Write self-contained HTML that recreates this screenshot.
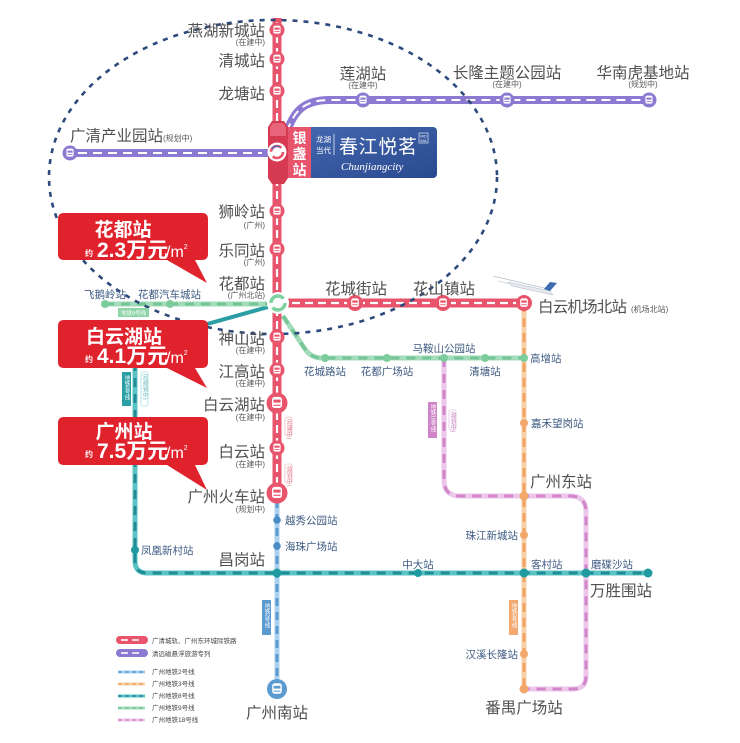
<!DOCTYPE html>
<html><head><meta charset="utf-8"><style>
html,body{margin:0;padding:0;background:#fff;}
svg{display:block;}
text{font-family:"Liberation Sans","Noto Sans CJK SC",sans-serif;}
.big{font-size:15.5px;fill:#505050;}
.sm{font-size:8px;fill:#5a5a5a;}
.nv{font-size:10.5px;fill:#3d5a82;}
.lg{font-size:6.5px;fill:#444;}
.vt{writing-mode:tb;font-size:5.5px;}
</style></head><body>
<svg width="740" height="743" viewBox="0 0 740 743" xmlns="http://www.w3.org/2000/svg">
<defs>
<symbol id="tr" viewBox="-10 -10 20 20">
<rect x="-4.8" y="-5.8" width="9.6" height="10.6" rx="2.6" fill="#fff"/>
<rect x="-3.4" y="-3.2" width="6.8" height="2.8" fill="currentColor"/>
<rect x="-3.4" y="1.6" width="6.8" height="1.1" fill="currentColor"/>
</symbol>
<linearGradient id="bg" x1="0" y1="0" x2="1" y2="1">
<stop offset="0" stop-color="#4467b0"/><stop offset="1" stop-color="#2a4a8f"/>
</linearGradient>
</defs>

<!-- Line 2 blue -->
<line x1="277" y1="500" x2="277" y2="689" stroke="#a9d0ee" stroke-width="5"/>
<line x1="277" y1="500" x2="277" y2="689" stroke="#5c9bd0" stroke-width="3" stroke-dasharray="8 6"/>
<!-- Line 3 orange -->
<line x1="524" y1="303" x2="524" y2="689" stroke="#f8d0a8" stroke-width="5"/>
<line x1="524" y1="303" x2="524" y2="689" stroke="#f0a464" stroke-width="3" stroke-dasharray="9 6"/>
<!-- Line 18 pink -->
<path d="M444,358 L444,480 Q444,496 460,496 L570,496 Q586,496 586,512 L586,676 Q586,689 573,689 L524,689" fill="none" stroke="#edc6ec" stroke-width="5"/>
<path d="M444,358 L444,480 Q444,496 460,496 L570,496 Q586,496 586,512 L586,676 Q586,689 573,689 L524,689" fill="none" stroke="#cf85c8" stroke-width="3" stroke-dasharray="9 7"/>
<!-- Line 8 teal -->
<path d="M135,330 L135,561 Q135,573 147,573 L648,573" fill="none" stroke="#5cc3c4" stroke-width="5"/>
<path d="M135,330 L135,561 Q135,573 147,573 L648,573" fill="none" stroke="#1f8c96" stroke-width="3" stroke-dasharray="9 7"/>
<line x1="268" y1="307" x2="200" y2="326" stroke="#2a9ea3" stroke-width="4"/>
<!-- Line 9 green -->
<line x1="105" y1="304" x2="270" y2="304" stroke="#a3dcbb" stroke-width="5"/>
<path d="M283,316 L305,349 Q311,358 322,358 L524,358" fill="none" stroke="#a3dcbb" stroke-width="5"/>
<line x1="105" y1="304" x2="270" y2="304" stroke="#74c596" stroke-width="3" stroke-dasharray="9 7"/>
<path d="M283,316 L305,349 Q311,358 322,358 L524,358" fill="none" stroke="#74c596" stroke-width="3" stroke-dasharray="9 7"/>

<!-- Purple maglev -->
<path d="M70,153 L268,153" stroke="#8c7ad2" stroke-width="8" fill="none"/>
<path d="M287,132 C294,110 305,100 330,100 L650,100" stroke="#8c7ad2" stroke-width="8" fill="none"/>
<path d="M78,153 L262,153" stroke="#fff" stroke-width="2" stroke-dasharray="9 6" fill="none"/>
<path d="M287,132 C294,110 305,100 330,100 L642,100" stroke="#fff" stroke-width="2" stroke-dasharray="9 6" fill="none"/>

<!-- Red intercity -->
<line x1="277" y1="18" x2="277" y2="500" stroke="#e8546b" stroke-width="9"/>
<line x1="287" y1="303" x2="524" y2="303" stroke="#e8546b" stroke-width="9"/>
<line x1="277" y1="22" x2="277" y2="498" stroke="#fff" stroke-width="2.2" stroke-dasharray="8 5"/>
<line x1="292" y1="303" x2="520" y2="303" stroke="#fff" stroke-width="2.2" stroke-dasharray="8 5"/>

<!-- dashed ellipse -->
<ellipse cx="273" cy="177" rx="224" ry="157" fill="none" stroke="#2e4a7c" stroke-width="2.6" stroke-dasharray="5 6"/>

<!-- red stations -->
<g>
<circle cx="277" cy="30" r="7.5" fill="#e8546b"/><use href="#tr" x="269.5" y="22.5" width="15" height="15" style="color:#e8546b"/>
<circle cx="277" cy="59" r="7.5" fill="#e8546b"/><use href="#tr" x="269.5" y="51.5" width="15" height="15" style="color:#e8546b"/>
<circle cx="277" cy="91" r="7.5" fill="#e8546b"/><use href="#tr" x="269.5" y="83.5" width="15" height="15" style="color:#e8546b"/>
<circle cx="277" cy="211" r="7.5" fill="#e8546b"/><use href="#tr" x="269.5" y="203.5" width="15" height="15" style="color:#e8546b"/>
<circle cx="277" cy="249" r="7.5" fill="#e8546b"/><use href="#tr" x="269.5" y="241.5" width="15" height="15" style="color:#e8546b"/>
<circle cx="277" cy="337" r="7.5" fill="#e8546b"/><use href="#tr" x="269.5" y="329.5" width="15" height="15" style="color:#e8546b"/>
<circle cx="277" cy="370" r="7.5" fill="#e8546b"/><use href="#tr" x="269.5" y="362.5" width="15" height="15" style="color:#e8546b"/>
<circle cx="277" cy="448" r="7.5" fill="#e8546b"/><use href="#tr" x="269.5" y="440.5" width="15" height="15" style="color:#e8546b"/>
<circle cx="277" cy="403" r="10.5" fill="#e8546b"/><use href="#tr" x="266.5" y="392.5" width="21" height="21" style="color:#e8546b"/>
<circle cx="277" cy="493" r="10.5" fill="#e8546b"/><use href="#tr" x="266.5" y="482.5" width="21" height="21" style="color:#e8546b"/>
<circle cx="355" cy="303" r="8" fill="#e8546b"/><use href="#tr" x="347" y="295" width="16" height="16" style="color:#e8546b"/>
<circle cx="443" cy="303" r="8" fill="#e8546b"/><use href="#tr" x="435" y="295" width="16" height="16" style="color:#e8546b"/>
<circle cx="524" cy="303" r="8" fill="#e8546b"/><use href="#tr" x="516" y="295" width="16" height="16" style="color:#e8546b"/>
</g>
<!-- purple stations -->
<circle cx="70" cy="153" r="7.5" fill="#8c7ad2"/><use href="#tr" x="62.5" y="145.5" width="15" height="15" style="color:#8c7ad2"/>
<circle cx="363" cy="100" r="7.5" fill="#8c7ad2"/><use href="#tr" x="355.5" y="92.5" width="15" height="15" style="color:#8c7ad2"/>
<circle cx="507" cy="100" r="7.5" fill="#8c7ad2"/><use href="#tr" x="499.5" y="92.5" width="15" height="15" style="color:#8c7ad2"/>
<circle cx="649" cy="100" r="7.5" fill="#8c7ad2"/><use href="#tr" x="641.5" y="92.5" width="15" height="15" style="color:#8c7ad2"/>
<!-- Guangzhou south -->
<circle cx="277" cy="689" r="10" fill="#5c9bd0"/><use href="#tr" x="267" y="679" width="20" height="20" style="color:#5c9bd0"/>

<!-- small dots -->
<g fill="#1f9aa0">
<circle cx="135" cy="550" r="4"/><circle cx="277" cy="573" r="4.5"/><circle cx="418" cy="573" r="4"/>
<circle cx="524" cy="573" r="4.5"/><circle cx="586" cy="573" r="4.5"/><circle cx="648" cy="573" r="4.5"/>
</g>
<g fill="#f2a86a">
<circle cx="524" cy="423" r="4"/><circle cx="524" cy="496" r="4.5"/><circle cx="524" cy="535" r="4"/>
<circle cx="524" cy="654" r="4"/><circle cx="524" cy="689" r="4.5"/>
</g>
<g fill="#7ccc9c">
<circle cx="105" cy="304" r="4"/><circle cx="170" cy="304" r="4"/>
<circle cx="325" cy="358" r="4"/><circle cx="387" cy="358" r="4"/><circle cx="444" cy="358" r="4"/>
<circle cx="485" cy="358" r="4"/><circle cx="524" cy="358" r="4"/>
</g>
<g fill="#4a8cc6">
<circle cx="277" cy="520" r="3.8"/><circle cx="277" cy="546" r="3.8"/>
</g>

<!-- Huadu hub -->
<circle cx="278" cy="303" r="11" fill="#fff"/>
<circle cx="278" cy="303" r="7" fill="none" stroke="#7dd0a0" stroke-width="3.5" stroke-dasharray="17 5"/>

<!-- Yinzhan hub -->
<polygon points="268,127 272,121 284,121 288,127 288,178 284,184 272,184 268,178" fill="#d63a52"/>
<polygon points="270,127 273,123 283,123 286,127 286,136 270,136" fill="#e8647a"/>
<circle cx="277" cy="152" r="9.5" fill="#fff"/>
<circle cx="277" cy="152" r="6" fill="none" stroke="#e8546b" stroke-width="2.6" stroke-dasharray="14 5"/>
<path d="M272,149 A6,6 0 0 1 280,147" fill="none" stroke="#5468b8" stroke-width="1.5"/>

<!-- Brand box -->
<rect x="300" y="127" width="137" height="51" rx="4" fill="url(#bg)"/>
<rect x="288" y="127" width="23" height="51" fill="#e8546b"/>
<text x="299.5" y="143" font-size="14" font-weight="bold" fill="#fff" text-anchor="middle">银</text>
<text x="299.5" y="159" font-size="14" font-weight="bold" fill="#fff" text-anchor="middle">盏</text>
<text x="299.5" y="175" font-size="14" font-weight="bold" fill="#fff" text-anchor="middle">站</text>
<text x="316" y="142" font-size="7.5" fill="#fff">龙湖</text>
<text x="316" y="153" font-size="7.5" fill="#fff">当代</text>
<line x1="334" y1="134" x2="334" y2="155" stroke="#fff" stroke-width="0.7"/>
<text x="339" y="153" font-size="19" fill="#fff" textLength="78">春江悦茗</text>
<rect x="419" y="133" width="9" height="10" fill="none" stroke="#fff" stroke-width="0.6"/>
<text x="423.5" y="137.5" font-size="4" fill="#fff" text-anchor="middle">MO</text>
<text x="423.5" y="142" font-size="4" fill="#fff" text-anchor="middle">MA</text>
<text x="341" y="170" font-size="11" font-style="italic" fill="#fff" style="font-family:'Liberation Serif',serif">Chunjiangcity</text>

<!-- airplane -->
<g>
<line x1="493" y1="276" x2="548" y2="289" stroke="#b8c0cc" stroke-width="0.8"/>
<line x1="498" y1="281" x2="540" y2="291" stroke="#c8ced8" stroke-width="0.8"/>
<path d="M508,282 L550,291 L553,295 L512,286 Z" fill="#e6e9ee" stroke="#b0b8c4" stroke-width="0.5"/>
<path d="M544,289 L550,282 L557,283 L550,291 Z" fill="#3d6bb0"/>
</g>

<!-- Callouts -->
<path d="M64,213 H202 Q208,213 208,219 V254 Q208,260 202,260 H195 L207,283 L167,260 H64 Q58,260 58,254 V219 Q58,213 64,213 Z" fill="#e0222d"/>
<path d="M64,320 H202 Q208,320 208,326 V362 Q208,368 202,368 H195 L207,388 L167,368 H64 Q58,368 58,362 V326 Q58,320 64,320 Z" fill="#e0222d"/>
<path d="M64,417 H202 Q208,417 208,423 V459 Q208,465 202,465 H195 L207,490 L167,465 H64 Q58,465 58,459 V423 Q58,417 64,417 Z" fill="#e0222d"/>
<g fill="#fff">
<text x="123" y="236" font-size="19" font-weight="bold" text-anchor="middle">花都站</text>
<text x="85" y="256" font-size="8" font-weight="bold">约</text>
<text x="97" y="257" font-size="21" font-weight="bold">2.3万元</text>
<text x="166" y="257" font-size="16">/m<tspan font-size="7" dy="-8">2</tspan></text>
<text x="124" y="343" font-size="19" font-weight="bold" text-anchor="middle">白云湖站</text>
<text x="85" y="362" font-size="8" font-weight="bold">约</text>
<text x="97" y="363" font-size="21" font-weight="bold">4.1万元</text>
<text x="166" y="363" font-size="16">/m<tspan font-size="7" dy="-8">2</tspan></text>
<text x="124" y="438" font-size="19" font-weight="bold" text-anchor="middle">广州站</text>
<text x="85" y="457" font-size="8" font-weight="bold">约</text>
<text x="97" y="458" font-size="21" font-weight="bold">7.5万元</text>
<text x="166" y="458" font-size="16">/m<tspan font-size="7" dy="-8">2</tspan></text>
</g>

<!-- Main red line labels -->
<g class="big" text-anchor="end">
<text class="big" x="265" y="36">燕湖新城站</text>
<text class="big" x="265" y="66">清城站</text>
<text class="big" x="265" y="99">龙塘站</text>
<text class="big" x="265" y="217">狮岭站</text>
<text class="big" x="265" y="256">乐同站</text>
<text class="big" x="265" y="289">花都站</text>
<text class="big" x="265" y="344">神山站</text>
<text class="big" x="265" y="377">江高站</text>
<text class="big" x="265" y="410">白云湖站</text>
<text class="big" x="265" y="457">白云站</text>
<text class="big" x="265" y="502">广州火车站</text>
<text class="big" x="265" y="565">昌岗站</text>
</g>
<g text-anchor="end">
<text class="sm" x="265" y="45">(在建中)</text>
<text class="sm" x="265" y="228">(广州)</text>
<text class="sm" x="265" y="265">(广州)</text>
<text class="sm" x="265" y="298">(广州北站)</text>
<text class="sm" x="265" y="353">(在建中)</text>
<text class="sm" x="265" y="386">(在建中)</text>
<text class="sm" x="265" y="420">(在建中)</text>
<text class="sm" x="265" y="467">(在建中)</text>
<text class="sm" x="265" y="512">(规划中)</text>
</g>
<text class="big" x="70" y="141">广清产业园站</text>
<text class="sm" x="163" y="141">(规划中)</text>
<text class="big" x="363" y="79" text-anchor="middle">莲湖站</text>
<text class="sm" x="363" y="88" text-anchor="middle">(在建中)</text>
<text class="big" x="507" y="78" text-anchor="middle">长隆主题公园站</text>
<text class="sm" x="507" y="87" text-anchor="middle">(在建中)</text>
<text class="big" x="643" y="78" text-anchor="middle">华南虎基地站</text>
<text class="sm" x="643" y="87" text-anchor="middle">(规划中)</text>
<text class="big" x="356" y="294" text-anchor="middle">花城街站</text>
<text class="big" x="444" y="294" text-anchor="middle">花山镇站</text>
<text class="big" x="538" y="312" textLength="89">白云机场北站</text>
<text class="sm" x="631" y="312">(机场北站)</text>
<text class="big" x="530" y="487">广州东站</text>
<text class="big" x="590" y="596">万胜围站</text>
<text class="big" x="524" y="713" text-anchor="middle">番禺广场站</text>
<text class="big" x="277" y="718" text-anchor="middle">广州南站</text>

<!-- metro station labels -->
<text class="nv" x="84" y="298" font-size="11">飞鹅岭站</text>
<text class="nv" x="138" y="298">花都汽车城站</text>
<text class="nv" x="325" y="375" text-anchor="middle">花城路站</text>
<text class="nv" x="387" y="375" text-anchor="middle">花都广场站</text>
<text class="nv" x="444" y="352" text-anchor="middle">马鞍山公园站</text>
<text class="nv" x="485" y="375" text-anchor="middle">清塘站</text>
<text class="nv" x="530" y="362">高增站</text>
<text class="nv" x="531" y="427">嘉禾望岗站</text>
<text class="nv" x="518" y="539" text-anchor="end">珠江新城站</text>
<text class="nv" x="531" y="568">客村站</text>
<text class="nv" x="591" y="568">磨碟沙站</text>
<text class="nv" x="418" y="568" text-anchor="middle">中大站</text>
<text class="nv" x="518" y="658" text-anchor="end">汉溪长隆站</text>
<text class="nv" x="285" y="524">越秀公园站</text>
<text class="nv" x="285" y="550">海珠广场站</text>
<text class="nv" x="141" y="554">凤凰新村站</text>

<!-- line tag labels -->
<rect x="118" y="308" width="31" height="9" fill="#8fd4a8"/>
<text x="133.5" y="315" font-size="5.5" fill="#fff" text-anchor="middle">地铁9号线</text>
<rect x="122" y="372" width="9" height="34" fill="#2aa0a6"/>
<text class="vt" x="126.5" y="375" fill="#fff">地铁8号线</text>
<rect x="141" y="372" width="7" height="34" rx="2" fill="#fff" stroke="#8fd0d2" stroke-width="0.6"/>
<text class="vt" x="144.5" y="374" fill="#5fb8bb" font-size="5">(在规划中)</text>
<rect x="285" y="417" width="7" height="19" rx="2" fill="#fff" stroke="#e8a0aa" stroke-width="0.6"/>
<text class="vt" x="288.5" y="419" fill="#e07a8a" font-size="4.5">(在建中)</text>
<rect x="285" y="464" width="7" height="19" rx="2" fill="#fff" stroke="#e8a0aa" stroke-width="0.6"/>
<text class="vt" x="288.5" y="466" fill="#e07a8a" font-size="4.5">(规划中)</text>
<rect x="428" y="402" width="9" height="36" fill="#cf85c8"/>
<text class="vt" x="432.5" y="404" fill="#fff" font-size="5">地铁18号线</text>
<rect x="449" y="410" width="7" height="20" rx="2" fill="#fff" stroke="#dcaad8" stroke-width="0.6"/>
<text class="vt" x="452.5" y="412" fill="#c27cbd" font-size="4.5">(规划中)</text>
<rect x="509" y="600" width="9" height="35" fill="#f2aa72"/>
<text class="vt" x="513.5" y="603" fill="#fff">地铁3号线</text>
<rect x="262" y="600" width="9" height="35" fill="#5c9bd0"/>
<text class="vt" x="266.5" y="603" fill="#fff">地铁2号线</text>

<!-- legend -->
<rect x="116" y="636" width="32" height="8" rx="4" fill="#e8546b"/>
<line x1="121" y1="640" x2="143" y2="640" stroke="#fff" stroke-width="1.6" stroke-dasharray="7 4"/>
<rect x="116" y="649" width="32" height="8" rx="4" fill="#8c7ad2"/>
<line x1="121" y1="653" x2="143" y2="653" stroke="#fff" stroke-width="1.6" stroke-dasharray="7 4"/>
<text class="lg" x="152" y="643">广清城轨、广州东环城际铁路</text>
<text class="lg" x="152" y="656">清远磁悬浮旅游专列</text>
<line x1="118" y1="672" x2="145" y2="672" stroke="#a9d0ee" stroke-width="3"/>
<line x1="118" y1="672" x2="145" y2="672" stroke="#5c9bd0" stroke-width="1.6" stroke-dasharray="4 3"/>
<line x1="118" y1="684" x2="145" y2="684" stroke="#f8d0a8" stroke-width="3"/>
<line x1="118" y1="684" x2="145" y2="684" stroke="#f0a464" stroke-width="1.6" stroke-dasharray="4 3"/>
<line x1="118" y1="696" x2="145" y2="696" stroke="#5cc3c4" stroke-width="3"/>
<line x1="118" y1="696" x2="145" y2="696" stroke="#1f8c96" stroke-width="1.6" stroke-dasharray="4 3"/>
<line x1="118" y1="708" x2="145" y2="708" stroke="#a3dcbb" stroke-width="3"/>
<line x1="118" y1="708" x2="145" y2="708" stroke="#74c596" stroke-width="1.6" stroke-dasharray="4 3"/>
<line x1="118" y1="720" x2="145" y2="720" stroke="#edc6ec" stroke-width="3"/>
<line x1="118" y1="720" x2="145" y2="720" stroke="#cf85c8" stroke-width="1.6" stroke-dasharray="4 3"/>
<text class="lg" x="152" y="674">广州地铁2号线</text>
<text class="lg" x="152" y="686">广州地铁3号线</text>
<text class="lg" x="152" y="698">广州地铁8号线</text>
<text class="lg" x="152" y="710">广州地铁9号线</text>
<text class="lg" x="152" y="722">广州地铁18号线</text>
</svg>
</body></html>
